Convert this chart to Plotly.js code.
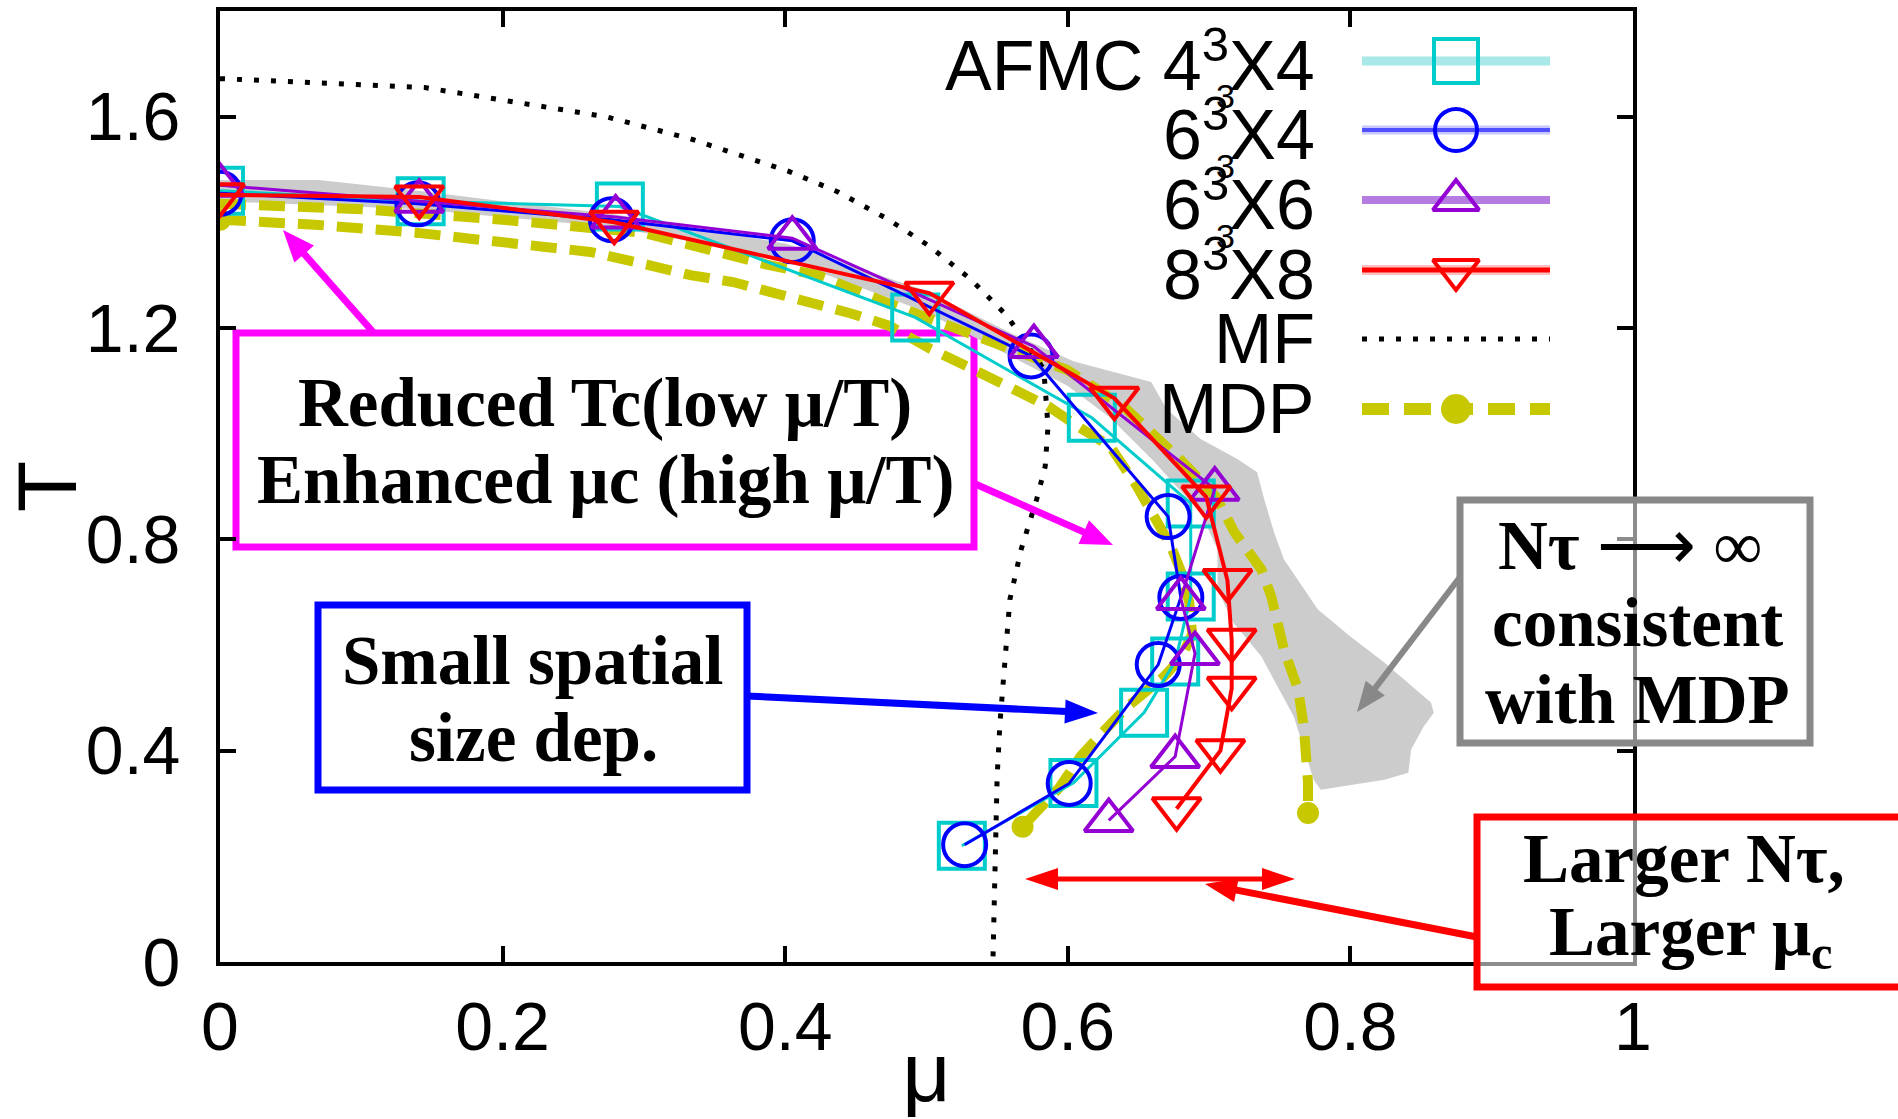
<!DOCTYPE html>
<html><head><meta charset="utf-8">
<script src="https://cdn.plot.ly/plotly-3.0.1.min.js"></script>
<style>html,body{margin:0;padding:0;background:#fff}</style>
</head><body><div id="chart" style="width:1898px;height:1119px"></div>
<script>
// ---- data ----
const afmcMu = [0, 0.142, 0.283, 0.492, 0.617, 0.687, 0.687, 0.676, 0.654, 0.604, 0.525];
const afmcT  = [1.46, 1.44, 1.43, 1.22, 1.03, 0.868, 0.692, 0.569, 0.472, 0.339, 0.22];
const s6x4Mu = [0, 0.140, 0.277, 0.405, 0.574, 0.671, 0.680, 0.664, 0.601, 0.527];
const s6x4T  = [1.455, 1.435, 1.405, 1.365, 1.147, 0.843, 0.690, 0.563, 0.338, 0.222];
const s6x6Mu = [0, 0.141, 0.280, 0.405, 0.576, 0.704, 0.680, 0.690, 0.676, 0.629];
const s6x6T  = [1.47, 1.44, 1.41, 1.37, 1.165, 0.895, 0.688, 0.584, 0.389, 0.268];
const s8x8Mu = [0, 0.141, 0.279, 0.502, 0.633, 0.698, 0.713, 0.716, 0.716, 0.708, 0.677];
const s8x8T  = [1.452, 1.448, 1.40, 1.266, 1.067, 0.88, 0.722, 0.609, 0.518, 0.40, 0.29];
const mfMu = [0, 0.145, 0.273, 0.333, 0.403, 0.437, 0.472, 0.502, 0.531, 0.557, 0.583, 0.586, 0.584, 0.578, 0.567, 0.559, 0.555, 0.552, 0.550, 0.549, 0.547];
const mfT  = [1.672, 1.655, 1.600, 1.558, 1.496, 1.458, 1.407, 1.355, 1.293, 1.223, 1.122, 1.014, 0.938, 0.876, 0.781, 0.686, 0.553, 0.453, 0.351, 0.218, 0.0];
const mdpUpMu = [0, 0.10, 0.20, 0.30, 0.387, 0.423, 0.47, 0.52, 0.55, 0.60, 0.64, 0.68, 0.705, 0.718, 0.737, 0.744, 0.753, 0.763, 0.767, 0.770, 0.770, 0.770];
const mdpUpT  = [1.435, 1.425, 1.405, 1.38, 1.32, 1.30, 1.25, 1.20, 1.17, 1.12, 1.05, 0.95, 0.88, 0.813, 0.743, 0.692, 0.591, 0.516, 0.446, 0.37, 0.339, 0.282];
const mdpLowMu = [0, 0.07, 0.14, 0.198, 0.262, 0.302, 0.333, 0.363, 0.392, 0.42, 0.446, 0.474, 0.503, 0.529, 0.557, 0.586, 0.607, 0.630, 0.649, 0.659, 0.673, 0.680, 0.686, 0.688, 0.680, 0.668, 0.642, 0.623, 0.609, 0.594, 0.581, 0.568];
const mdpLowT  = [1.405, 1.395, 1.38, 1.365, 1.344, 1.32, 1.30, 1.287, 1.268, 1.249, 1.228, 1.204, 1.16, 1.127, 1.09, 1.052, 1.014, 0.976, 0.90, 0.851, 0.787, 0.74, 0.68, 0.62, 0.575, 0.54, 0.483, 0.43, 0.389, 0.33, 0.294, 0.256];
const bandMu = [0, 0.07, 0.14, 0.20, 0.28, 0.40, 0.50, 0.56, 0.604, 0.659, 0.670, 0.694, 0.720, 0.734, 0.739, 0.746, 0.753, 0.777, 0.800, 0.824, 0.857, 0.859, 0.852, 0.843, 0.841, 0.824, 0.779, 0.774, 0.760, 0.737, 0.717, 0.706, 0.706, 0.694, 0.660, 0.630, 0.600, 0.550, 0.500, 0.400, 0.280, 0.140, 0];
const bandT  = [1.48, 1.48, 1.46, 1.44, 1.415, 1.36, 1.27, 1.19, 1.137, 1.098, 1.046, 0.99, 0.952, 0.927, 0.876, 0.813, 0.762, 0.667, 0.616, 0.567, 0.491, 0.472, 0.446, 0.402, 0.358, 0.345, 0.326, 0.345, 0.464, 0.578, 0.643, 0.705, 0.781, 0.85, 0.95, 1.03, 1.09, 1.16, 1.23, 1.33, 1.39, 1.425, 1.44];
const legendLabels = ['AFMC 4<sup>3</sup>X4', '6<sup>3</sup>X4', '6<sup>3</sup>X6', '8<sup>3</sup>X8', 'MF', 'MDP'];
const xTicks = [0, 0.2, 0.4, 0.6, 0.8, 1];
const yTicks = [0, 0.4, 0.8, 1.2, 1.6];

// ---- layout geometry (pixels of the 1898x1119 page) ----
const L = 220, R = 1633, TOP = 11, BOT = 962;
const px = x => (x - L) / (R - L);
const py = y => (BOT - y) / (BOT - TOP);

const CYAN = '#00cccc', BLUE = '#0000ff', PURPLE = '#9400d3', RED = '#ff0000', OLIVE = '#c8c800', MAGENTA = '#ff00ff', GREY = '#888888';
const SANS = 'Liberation Sans, Arial, sans-serif';
const SERIF = 'Liberation Serif, Times New Roman, serif';

const traces = [];
traces.push({x: bandMu, y: bandT, mode: 'lines', fill: 'toself', fillcolor: '#cccccc', line: {width: 0, color: '#cccccc'}, hoverinfo: 'skip', showlegend: false});
traces.push({x: mdpUpMu, y: mdpUpT, mode: 'lines', line: {color: OLIVE, width: 10, dash: '26px,13px'}, showlegend: false});
traces.push({x: mdpLowMu, y: mdpLowT, mode: 'lines', line: {color: OLIVE, width: 10, dash: '26px,13px'}, showlegend: false});
traces.push({x: [mdpLowMu[0], mdpLowMu[mdpLowMu.length-1], mdpUpMu[mdpUpMu.length-1]],
             y: [mdpLowT[0], mdpLowT[mdpLowT.length-1], mdpUpT[mdpUpT.length-1]],
             mode: 'markers', marker: {color: OLIVE, size: 22, symbol: 'circle'}, showlegend: false});
traces.push({x: mfMu, y: mfT, mode: 'lines', line: {color: '#000', width: 5, dash: '5px,12px'}, showlegend: false});
function series(mu, t, color, sym, size, lw) {
  return {x: mu, y: t, mode: 'lines+markers', line: {color: color, width: lw},
          marker: {symbol: sym, size: size, color: color, line: {color: color, width: 4}}, showlegend: false};
}
traces.push(series(afmcMu, afmcT, CYAN, 'square-open', 46, 3));
traces.push(series(s6x4Mu, s6x4T, BLUE, 'circle-open', 43, 3));
traces.push(series(s6x6Mu, s6x6T, PURPLE, 'triangle-up-open', 42, 3));
traces.push(series(s8x8Mu, s8x8T, RED, 'triangle-down-open', 42, 4));

// ---- hand-drawn key (text left, sample right) on an overlay 0..1 axis ----
const rowY = [61, 130, 200, 270, 339, 409].map(py);
const kx0 = px(1362), kx1 = px(1550), kxm = px(1456);
function keyLine(i, color, width, dash) {
  traces.push({x: [kx0, kx1], y: [rowY[i], rowY[i]], xaxis: 'x2', yaxis: 'y2', mode: 'lines',
               line: {color: color, width: width, dash: dash || 'solid'}, hoverinfo: 'skip', showlegend: false});
}
function keyMark(i, sym, color, size) {
  traces.push({x: [kxm], y: [rowY[i]], xaxis: 'x2', yaxis: 'y2', mode: 'markers', hoverinfo: 'skip', showlegend: false,
               marker: {symbol: sym, size: size, color: color, line: {color: color, width: 4}}});
}
keyLine(0, '#a8e8e8', 9); keyMark(0, 'square-open', CYAN, 44);
keyLine(1, '#c8c8ff', 9); keyLine(1, '#5050ff', 4); keyMark(1, 'circle-open', BLUE, 42);
keyLine(2, '#b47ce0', 8); keyMark(2, 'triangle-up-open', PURPLE, 40);
keyLine(3, '#ffc0c0', 10); keyLine(3, RED, 5); keyMark(3, 'triangle-down-open', RED, 40);
keyLine(4, '#000', 5, '5px,12px');
keyLine(5, OLIVE, 12, '27px,15px'); keyMark(5, 'circle', OLIVE, 26);

const ann = [];
legendLabels.forEach((t, i) => ann.push({text: t, x: px(1317), y: rowY[i], xref: 'paper', yref: 'paper',
  xanchor: 'right', yanchor: 'middle', showarrow: false, font: {family: SANS, size: 70, color: '#000'}}));
[96, 166, 236].forEach(y => ann.push({text: '3', x: px(1225), y: py(y), xref: 'paper', yref: 'paper',
  xanchor: 'center', yanchor: 'middle', showarrow: false, font: {family: SANS, size: 34, color: '#000'}}));

function line(text, cx, baseY) {
  ann.push({text: text, x: px(cx), y: py(baseY - 22), xref: 'paper', yref: 'paper', xanchor: 'center', yanchor: 'middle',
            showarrow: false, font: {family: SERIF, size: 69, color: '#000'}});
}
line('<b>Reduced Tc(low μ/T)</b>', 605, 425);
line('<b>Enhanced μc (high μ/T)</b>', 605, 502);
line('<b>Small spatial</b>', 533, 683);
line('<b>size dep.</b>', 533, 760);
line('<b>Nτ</b> ⟶ ∞', 1630, 568);
line('<b>consistent</b>', 1637, 645);
line('<b>with MDP</b>', 1637, 722);
line('<b>Larger Nτ,</b>', 1684, 881);
line('<b>Larger μ<sub>c</sub></b>', 1690, 958);

// ---- boxes and arrows drawn as shapes, placed in page pixels ----
function box(x0, y0, x1, y1, color, layer, fill) {
  return {type: 'rect', xref: 'paper', yref: 'paper', x0: px(x0), x1: px(x1), y0: py(y1), y1: py(y0),
          line: {color: color, width: 7}, fillcolor: fill, layer: layer};
}
const shapes = [
  box(236, 333, 974, 547, MAGENTA, 'below', 'rgba(255,255,255,0)'),
  box(318, 605, 747, 790, BLUE, 'below', 'rgba(255,255,255,0)'),
  box(1460, 500, 1810, 743, GREY, 'above', 'rgba(255,255,255,0.55)'),
  box(1477, 817, 1910, 987, RED, 'above', 'rgba(255,255,255,0.55)')
];
function head(tipx, tipy, dx, dy, len, hw, color) {
  const bx = tipx - dx * len, by = tipy - dy * len;
  const pts = [[tipx, tipy], [bx - dy * hw, by + dx * hw], [bx + dy * hw, by - dx * hw]];
  shapes.push({type: 'path', xref: 'paper', yref: 'paper', layer: 'above', fillcolor: color, line: {width: 0},
               path: 'M' + pts.map(p => px(p[0]) + ',' + py(p[1])).join(' L') + ' Z'});
}
function arrow(tx, ty, hx, hy, color, w, len, hw, both) {
  const d = Math.hypot(hx - tx, hy - ty), dx = (hx - tx) / d, dy = (hy - ty) / d;
  const sx = both ? tx + dx * len * 0.8 : tx, sy = both ? ty + dy * len * 0.8 : ty;
  const ex = hx - dx * len * 0.8, ey = hy - dy * len * 0.8;
  shapes.push({type: 'line', xref: 'paper', yref: 'paper', layer: 'above', x0: px(sx), y0: py(sy), x1: px(ex), y1: py(ey),
               line: {color: color, width: w}});
  head(hx, hy, dx, dy, len, hw, color);
  if (both) head(tx, ty, -dx, -dy, len, hw, color);
}
arrow(373, 332, 283, 230, MAGENTA, 7, 32, 13);
arrow(973, 483, 1113, 545, MAGENTA, 7, 32, 13);
arrow(747, 696, 1098, 713, BLUE, 7, 33, 12);
arrow(1460, 577, 1357, 712, GREY, 6, 30, 12);
arrow(1477, 937, 1205, 884, RED, 7, 32, 12);
arrow(1025, 879, 1295, 879, RED, 5, 33, 11, true);

const axisCommon = {ticks: 'inside', ticklen: 16, tickwidth: 4, tickcolor: '#000', showline: true, linewidth: 4,
  linecolor: '#000', mirror: 'ticks', showgrid: false, zeroline: false,
  tickfont: {family: SANS, size: 68, color: '#000'}};
const layout = {
  width: 1898, height: 1119, margin: {l: L, r: 1898 - R, t: TOP, b: 1119 - BOT, pad: 0},
  paper_bgcolor: '#fff', plot_bgcolor: '#fff', showlegend: false,
  xaxis: Object.assign({}, axisCommon, {range: [0, 1], tickvals: xTicks, ticklabelstandoff: 2,
    title: {text: 'μ', font: {family: SANS, size: 84, color: '#000'}, standoff: 40}}),
  yaxis: Object.assign({}, axisCommon, {range: [0, 1.8], tickvals: yTicks, ticklabelstandoff: 22,
    title: {text: 'T', font: {family: SANS, size: 84, color: '#000'}, standoff: 12}}),
  xaxis2: {overlaying: 'x', range: [0, 1], visible: false, anchor: 'y2'},
  yaxis2: {overlaying: 'y', range: [0, 1], visible: false, anchor: 'x2'},
  annotations: ann, shapes: shapes
};
Plotly.newPlot('chart', traces, layout, {displayModeBar: false, staticPlot: true});
</script></body></html>
